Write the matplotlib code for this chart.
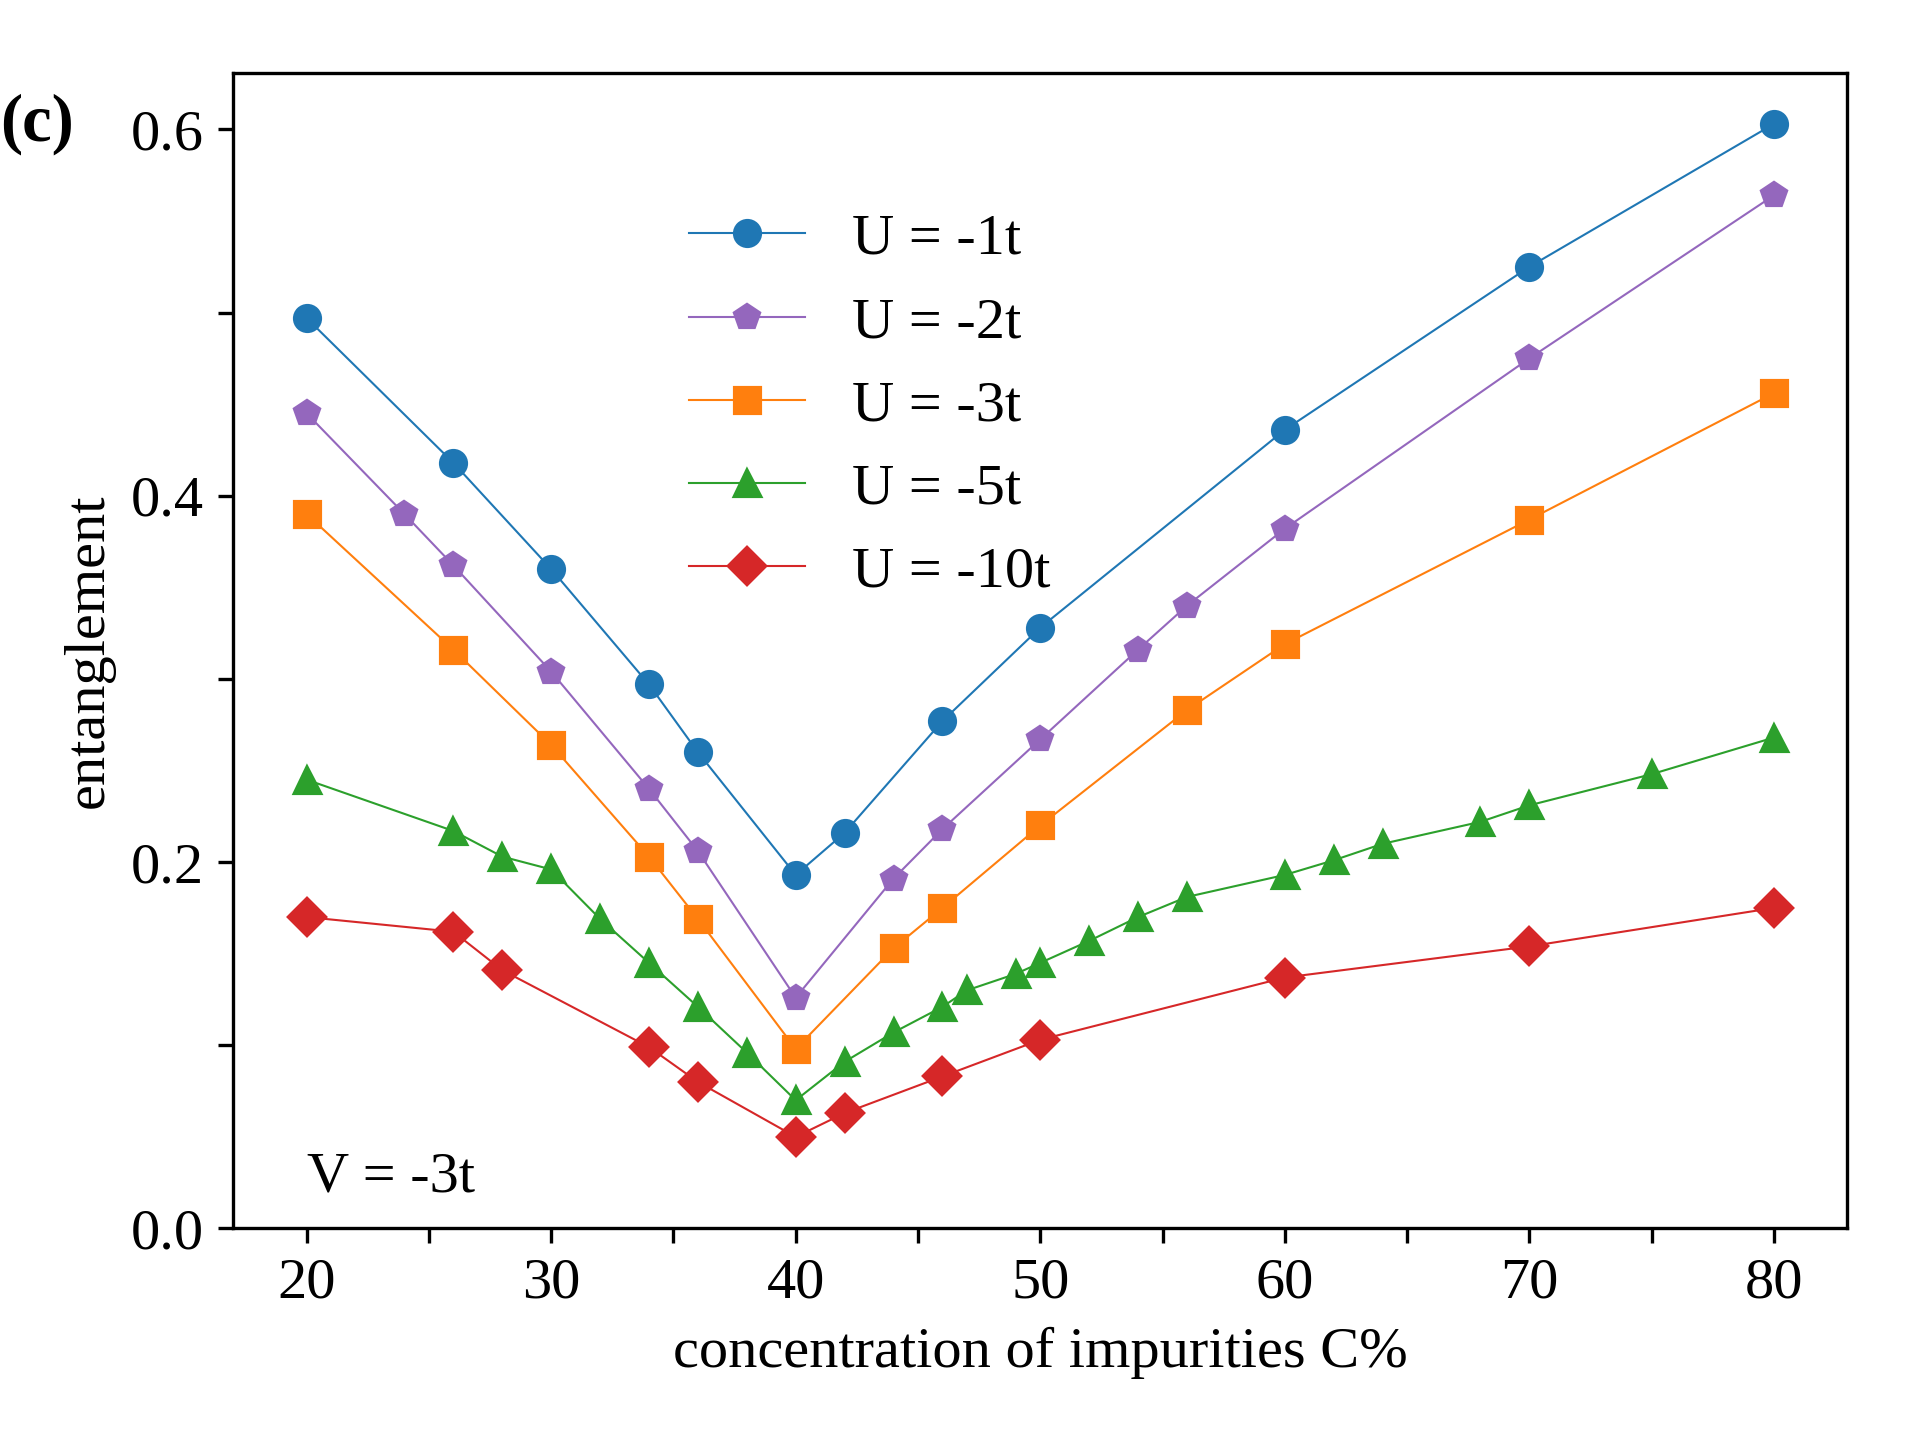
"""
Entanglement vs concentration of impurities for several U, at V = -3t
"""

import matplotlib
matplotlib.use("Agg")
import matplotlib.pyplot as plt

plt.rcParams['font.family'] = ['Liberation Serif', 'DejaVu Serif']
plt.rcParams['font.size'] = 14

# U = -1t
conc_u1 = [20, 26, 30, 34, 36, 40, 42, 46, 50, 60, 70, 80]
ent_u1 = [0.497, 0.418, 0.360, 0.297, 0.260, 0.193, 0.216, 0.277, 0.328, 0.436, 0.525, 0.603]

# U = -2t
conc_u2 = [20, 24, 26, 30, 34, 36, 40, 44, 46, 50, 54, 56, 60, 70, 80]
ent_u2 = [0.445, 0.390, 0.362, 0.304, 0.240, 0.206, 0.126, 0.191, 0.218, 0.267, 0.316, 0.340,
          0.382, 0.475, 0.564]

# U = -3t
conc_u3 = [20, 26, 30, 34, 36, 40, 44, 46, 50, 56, 60, 70, 80]
ent_u3 = [0.390, 0.316, 0.264, 0.203, 0.169, 0.098, 0.153, 0.175, 0.220, 0.283, 0.319, 0.387, 0.456]

# U = -5t
conc_u5 = [20, 26, 28, 30, 32, 34, 36, 38, 40, 42, 44, 46, 47, 49, 50, 52, 54, 56, 60, 62, 64,
           68, 70, 75, 80]
ent_u5 = [0.245, 0.217, 0.203, 0.196, 0.169, 0.145, 0.121, 0.096, 0.070, 0.091, 0.107, 0.121,
          0.130, 0.139, 0.145, 0.157, 0.170, 0.181, 0.193, 0.201, 0.210, 0.222, 0.231, 0.248, 0.268]

# U = -10t
conc_u10 = [20, 26, 28, 34, 36, 40, 42, 46, 50, 60, 70, 80]
ent_u10 = [0.170, 0.162, 0.141, 0.099, 0.080, 0.050, 0.063, 0.083, 0.103, 0.137, 0.154, 0.175]

xticks = [20, 25, 30, 35, 40, 45, 50, 55, 60, 65, 70, 75, 80]
xticklabels = ['20', '', '30', '', '40', '', '50', '', '60', '', '70', '', '80']
yticks = [0.0, 0.1, 0.2, 0.3, 0.4, 0.5, 0.6]
yticklabels = ['0.0', '', '0.2', '', '0.4', '', '0.6']

fig = plt.figure(figsize=(6.4, 4.8), dpi=300)
ax = fig.add_axes([0.1215, 0.1469, 0.8406, 0.8022])

lw = 0.5
ax.plot(conc_u1, ent_u1, 'o-', color='C0', lw=lw, label='U = -1t')
ax.plot(conc_u2, ent_u2, 'p-', color='C4', lw=lw, label='U = -2t')
ax.plot(conc_u3, ent_u3, 's-', color='C1', lw=lw, label='U = -3t')
ax.plot(conc_u5, ent_u5, '^-', color='C2', lw=lw, label='U = -5t')
ax.plot(conc_u10, ent_u10, 'D-', color='C3', lw=lw, label='U = -10t')

ax.set_ylim(bottom=0)
ax.set_xticks(xticks)
ax.set_xticklabels(xticklabels)
ax.set_yticks(yticks)
ax.set_yticklabels(yticklabels)

ax.set_xlabel('concentration of impurities C%')
ax.set_ylabel('entanglement')

ax.text(20, 0.02, 'V = -3t')
fig.text(0.0, 0.914, '(c)', fontsize=16, fontweight='bold', va='center')

ax.legend(loc='upper left', bbox_to_anchor=(0.2496, 0.9245), frameon=False,
          labelspacing=0.52)

fig.savefig('out.png', dpi=300)
